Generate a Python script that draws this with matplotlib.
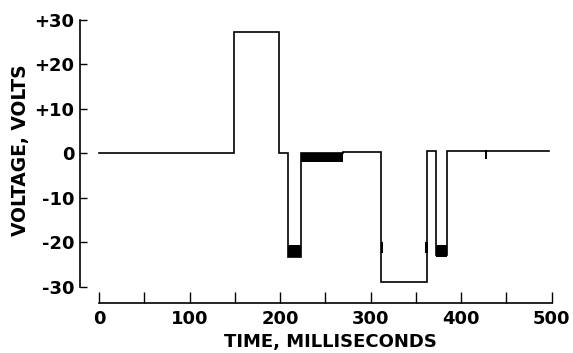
import matplotlib
matplotlib.use("Agg")
import matplotlib.pyplot as plt

# waveform breakpoints (ms, volts)
tempo = [0, 149, 149, 199, 199, 209, 209, 223, 223, 270, 270, 312, 312, 362, 362,
         372, 372, 384, 384, 427, 427, 427, 497]
tensao = [0, 0, 27.2, 27.2, 0, 0, -23.3, -23.3, 0, 0, 0.3, 0.3, -29, -29, 0.5,
          0.5, -23, -23, 0.5, 0.5, -1.3, 0.5, 0.5]

# noisy (thick) parts of the trace: start, end, low, high
ruido_ini = [209, 223, 311, 360.5, 372]
ruido_fim = [223, 270, 314, 363, 384]
ruido_min = [-23.3, -2.0, -22.5, -22.5, -23.3]
ruido_max = [-20.6, 0.0, -20.0, -20.0, -20.6]

x_ticks = [0, 50, 100, 150, 200, 250, 300, 350, 400, 450, 500]
x_labels = ["0", "", "100", "", "200", "", "300", "", "400", "", "500"]
y_ticks = [-30, -20, -10, 0, 10, 20, 30]
y_labels = ["-30", "-20", "-10", "0", "+10", "+20", "+30"]

plt.rcParams['font.family'] = ['DejaVu Sans']
plt.rcParams['font.weight'] = 'bold'

fig = plt.figure(figsize=(5.73, 3.53), dpi=100)
ax = fig.add_axes([0.1396, 0.1416, 0.8232, 0.8017])

ax.plot(tempo, tensao, color='black', lw=1.2, solid_joinstyle='miter')
for a, b, lo, hi in zip(ruido_ini, ruido_fim, ruido_min, ruido_max):
    ax.fill_between([a, b], [lo, lo], [hi, hi], color='black', lw=0)

ax.set_xlim(-21, 500)
ax.set_ylim(-33.7, 30)

# eixos separados (estilo de figura antiga)
for s in ['top', 'right']:
    ax.spines[s].set_visible(False)
ax.spines['left'].set_bounds(-30, 30)
ax.spines['bottom'].set_bounds(0, 500)
ax.spines['left'].set_linewidth(1.2)
ax.spines['bottom'].set_linewidth(1.2)

ax.set_xticks(x_ticks)
ax.set_xticklabels(x_labels)
ax.set_yticks(y_ticks)
ax.set_yticklabels(y_labels)
ax.tick_params(axis='x', direction='in', length=8, width=1, labelsize=13, pad=5)
ax.tick_params(axis='y', direction='in', length=5, width=1, labelsize=13, pad=4)

ax.set_xlabel("TIME, MILLISECONDS", fontsize=13, fontweight='bold')
ax.set_ylabel("VOLTAGE, VOLTS", fontsize=13.5, fontweight='bold')
ax.xaxis.set_label_coords(0.53, -0.105)
ax.yaxis.set_label_coords(-0.105, 0.54)

plt.savefig("out.png", dpi=100)
